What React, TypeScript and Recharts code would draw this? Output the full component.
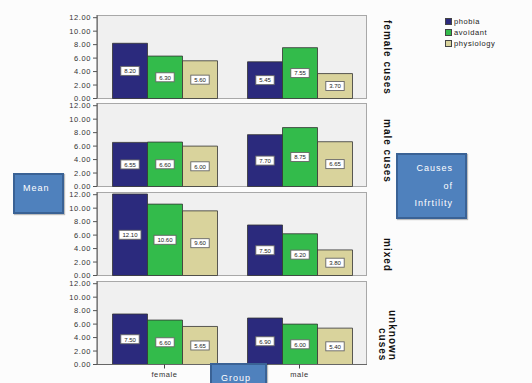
import React from 'react';
import { BarChart, Bar, XAxis, YAxis, LabelList, Legend } from 'recharts';

const panelNames = ['female cuses', 'male cuses', 'mixed', 'unknown cuses'];
const groups = ['female', 'male'];
const seriesNames = ['phobia', 'avoidant', 'physiology'];
const seriesColors = ['#2b2a7d', '#33bb4b', '#d9d39c'];
// values per panel: [female, male]
const phobia = [[8.2, 5.45], [6.55, 7.7], [12.1, 7.5], [7.5, 6.9]];
const avoidant = [[6.3, 7.55], [6.6, 8.75], [10.6, 6.2], [6.6, 6.0]];
const physiology = [[5.6, 3.7], [6.0, 6.65], [9.6, 3.8], [5.65, 5.4]];
const yTicks = [0, 2, 4, 6, 8, 10, 12];

const FONT = '"Liberation Sans", Arial, sans-serif';
const plotTops = [15, 103, 192, 281];
const plotH = 83.5;
const plotLeft = 97;
const plotW = 270;

const renderLabel = (props: any) => {
  const { x, y, width, height, value } = props;
  const txt = Number(value).toFixed(2);
  const w = 4 + txt.length * 3.6;
  const cx = Number(x) + Number(width) / 2;
  const cy = Number(y) + Number(height) / 2;
  return (
    <g>
      <rect x={cx - w / 2} y={cy - 4.5} width={w} height={9} fill="#ffffff" stroke="#666" strokeWidth={0.9} />
      <text x={cx} y={cy + 2.3} textAnchor="middle" fontSize={6} fill="#222" fontFamily={FONT}>
        {txt}
      </text>
    </g>
  );
};

const LegendBox = () => (
  <div style={{ fontFamily: FONT, fontSize: 7.5, letterSpacing: 0.6, color: '#222' }}>
    {seriesNames.map((n, i) => (
      <div key={n} style={{ display: 'flex', alignItems: 'center', height: 11 }}>
        <div style={{ width: 7, height: 7, background: seriesColors[i], border: '1px solid #444', boxSizing: 'border-box', marginRight: 2 }} />
        <span>{n}</span>
      </div>
    ))}
  </div>
);

const blueBox: React.CSSProperties = {
  position: 'absolute',
  background: '#4f81bd',
  border: '2px solid #3a6295',
  boxSizing: 'border-box',
  color: '#fff',
  fontFamily: FONT,
  fontSize: 9,
  letterSpacing: 1,
  boxShadow: '1px 1px 1px rgba(0,0,0,0.25)',
};

export default function App() {
  return (
    <div style={{ position: 'fixed', left: 0, top: 0, width: 532, height: 383, overflow: 'hidden', background: '#fcfcfc' }}>
      {panelNames.map((name, i) => {
        const rows = groups.map((g, j) => ({
          group: g,
          phobia: phobia[i][j],
          avoidant: avoidant[i][j],
          physiology: physiology[i][j],
        }));
        const last = i === panelNames.length - 1;
        return (
          <React.Fragment key={name}>
            <div
              style={{
                position: 'absolute',
                left: plotLeft,
                top: plotTops[i],
                width: plotW,
                height: plotH,
                background: '#f0f0f0',
                border: '1.5px solid #a8a8a8',
                boxSizing: 'border-box',
              }}
            />
            <div style={{ position: 'absolute', left: 0, top: plotTops[i] - 4 }}>
              <BarChart
                width={532}
                height={last ? 4 + plotH + 24 : 4 + plotH + 4}
                data={rows}
                margin={{ top: 4, right: 532 - plotLeft - plotW, bottom: last ? 0 : 4, left: 0 }}
                barCategoryGap={15.5}
                barGap={0}
              >
                {last ? (
                  <XAxis
                    dataKey="group"
                    height={24}
                    tickSize={4}
                    tickMargin={3}
                    axisLine={{ stroke: '#666' }}
                    tickLine={{ stroke: '#444' }}
                    tick={{ fontSize: 7.5, fill: '#333', fontFamily: FONT, letterSpacing: 0.6 } as any}
                  />
                ) : (
                  <XAxis dataKey="group" hide />
                )}
                <YAxis
                  type="number"
                  domain={[0, 12.4]}
                  ticks={yTicks}
                  interval={0}
                  width={plotLeft}
                  tickSize={4}
                  tickMargin={2}
                  tickFormatter={(v: number) => v.toFixed(2)}
                  axisLine={{ stroke: '#555' }}
                  tickLine={{ stroke: '#555' }}
                  tick={{ fontSize: 7.5, fill: '#333', fontFamily: FONT, letterSpacing: 0.6 } as any}
                />
                {seriesNames.map((s, k) => (
                  <Bar key={s} dataKey={s} name={s} fill={seriesColors[k]} stroke="#333" strokeWidth={0.8} isAnimationActive={false}>
                    <LabelList dataKey={s} content={renderLabel} />
                  </Bar>
                ))}
                {i === 0 && (
                  <Legend
                    layout="horizontal"
                    verticalAlign="middle"
                    align="center"
                    wrapperStyle={{ left: 445, top: 5, width: 'auto', height: 'auto' }}
                    content={() => <LegendBox />}
                  />
                )}
              </BarChart>
            </div>
            <div
              style={{
                position: 'absolute',
                left: 367,
                width: 40,
                top: plotTops[i],
                height: plotH - 3.5,
                display: 'flex',
                justifyContent: 'center',
              }}
            >
              <div
                style={{
                  writingMode: 'vertical-rl',
                  textAlign: 'end',
                  height: '100%',
                  lineHeight: '10px',
                  fontFamily: FONT,
                  fontWeight: 'bold',
                  fontSize: 10,
                  letterSpacing: 1,
                  color: '#111',
                  width: name === 'unknown cuses' ? 20 : 10,
                }}
              >
                {name === 'unknown cuses' ? (
                  <>
                    unknown
                    <br />
                    cuses
                  </>
                ) : (
                  name
                )}
              </div>
            </div>
          </React.Fragment>
        );
      })}
      <div style={{ ...blueBox, left: 13, top: 173, width: 51, height: 41, paddingLeft: 8, paddingTop: 8 }}>Mean</div>
      <div
        style={{
          ...blueBox,
          left: 396,
          top: 153,
          width: 71,
          height: 66,
          paddingRight: 12,
          paddingTop: 5,
          textAlign: 'right',
          lineHeight: '17.5px',
        }}
      >
        Causes
        <br />
        of
        <br />
        Infrtility
      </div>
      <div style={{ ...blueBox, left: 210, top: 363, width: 57, height: 30, paddingLeft: 9, paddingTop: 8 }}>Group</div>
    </div>
  );
}
